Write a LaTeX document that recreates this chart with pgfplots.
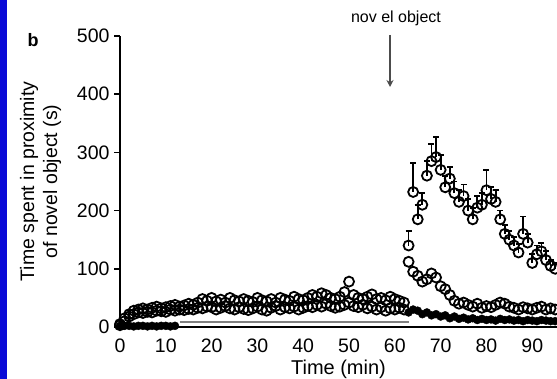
\documentclass[border=0pt]{standalone}
\usepackage{fontspec}
\setmainfont{Liberation Sans}
\usepackage{pgfplots}
\pgfplotsset{compat=1.18}
\usetikzlibrary{arrows.meta}
\definecolor{edgeblue}{RGB}{10,10,215}
\begin{document}
\begin{tikzpicture}[x=1pt,y=1pt]
\useasboundingbox (0,0) rectangle (557,379);
\fill[edgeblue] (0,0) rectangle (7,379);
\begin{axis}[
  at={(120pt,52pt)}, anchor=south west,
  scale only axis, width=437pt, height=291pt,
  xmin=0, xmax=95.4, ymin=0, ymax=500,
  axis x line*=bottom, axis y line*=left,
  axis line style={line width=2.5pt},
  xtick={0,10,...,90}, ytick={0,100,...,500},
  tick align=outside,
  major tick length=6pt,
  every tick/.style={line width=1.5pt, black},
  x tick style={draw=none},
  /pgf/number format/assume math mode=true,
  tick label style={font=\fontsize{19.5}{21}\selectfont},
  xticklabel style={yshift=-2pt},
  yticklabel style={xshift=-1pt},
  xlabel={Time (min)},
  xlabel style={font=\fontsize{20}{22}\selectfont, at={(axis description cs:0.5,0)}, anchor=center, yshift=-42pt},
  ylabel={Time spent in proximity\\of novel object (s)},
  ylabel style={font=\fontsize{19.5}{23}\selectfont, align=center, at={(axis description cs:-0.182,0.5)}, anchor=center},
  clip=false,
]
% filled black series near zero
\addplot[only marks, mark=*, mark size=4pt, mark options={fill=black, draw=black}] coordinates {
(0,2)(1,2)(2,2)(3,1)(4,2)(5,2)(6,1)(7,2)(8,1)(9,2)(10,2)(11,1)(12,2)
(63,25)(64,30)(65,28)(66,22)(67,25)(68,20)(69,22)(70,18)(71,20)(72,15)(73,18)(74,14)(75,16)(76,13)(77,15)(78,12)(79,14)(80,12)(81,13)(82,11)(83,14)(84,12)(85,13)(86,11)(87,12)(88,10)(89,12)(90,11)(91,10)(92,12)(93,11)(94,10)(95,10)
};
\addplot[gray, line width=2pt] coordinates {(13,8)(63,8)};
% moderate responders
\addplot[only marks, mark=o, mark size=5pt, mark options={fill=white, draw=black, line width=1.8pt}] coordinates {
(0,3)(1,10)(2,18)(3,22)(4,25)(5,24)(6,26)(7,25)(8,28)(9,27)(10,26)(11,30)(12,28)(13,30)(14,29)(15,31)(16,30)(17,33)(18,32)(19,35)(20,34)(21,30)(22,33)(23,36)(24,32)(25,30)(26,34)(27,31)(28,29)(29,32)(30,35)(31,30)(32,28)(33,33)(34,36)(35,30)(36,34)(37,32)(38,35)(39,30)(40,33)(41,36)(42,34)(43,38)(44,35)(45,40)(46,36)(47,33)(48,35)(49,38)(50,42)(51,36)(52,34)(53,38)(54,32)(55,35)(56,30)(57,34)(58,28)(59,32)(60,30)(61,33)(62,30)
(63,112)(64,95)(65,88)(66,78)(67,82)(68,92)(69,85)(70,70)(71,65)(72,55)(73,45)(74,40)(75,42)(76,38)(77,35)(78,40)(79,33)(80,36)(81,34)(82,38)(83,42)(84,40)(85,35)(86,33)(87,30)(88,34)(89,32)(90,30)(91,33)(92,35)(93,30)(94,32)(95,30)
};
% high responders
\addplot[only marks, mark=o, mark size=5pt, mark options={fill=white, draw=black, line width=1.8pt},
  error bars/.cd, y dir=plus, y explicit, error bar style={line width=1.8pt, black}, error mark options={rotate=90, mark size=3pt, line width=1.8pt}] coordinates {
(0,5)(1,15)(2,22)(3,28)(4,30)(5,32)(6,30)(7,33)(8,35)(9,32)(10,34)(11,36)(12,38)(13,35)(14,37)(15,40)(16,38)(17,42)(18,48)(19,45)(20,50)(21,44)(22,47)(23,42)(24,50)(25,46)(26,44)(27,48)(28,45)(29,43)(30,50)(31,46)(32,44)(33,48)(34,42)(35,50)(36,47)(37,45)(38,52)(39,48)(40,46)(41,50)(42,55)(43,52)(44,58)(45,55)(46,50)(47,48)(48,52)(49,60)(50,78)(51,55)(52,50)(53,48)(54,52)(55,56)(56,48)(57,50)(58,46)(59,52)(60,48)(61,45)(62,42)
(63,140) +- (0,25)
(64,232) +- (0,50)
(65,185) +- (0,25)
(66,210) +- (0,20)
(67,260) +- (0,25)
(68,285) +- (0,30)
(69,292) +- (0,35)
(70,270) +- (0,25)
(71,240) +- (0,20)
(72,255) +- (0,20)
(73,230) +- (0,20)
(74,215) +- (0,20)
(75,225) +- (0,20)
(76,200) +- (0,20)
(77,185) +- (0,20)
(78,205) +- (0,20)
(79,210) +- (0,20)
(80,235) +- (0,35)
(81,220) +- (0,20)
(82,215) +- (0,20)
(83,185) +- (0,15)
(84,160) +- (0,15)
(85,150) +- (0,15)
(86,140) +- (0,15)
(87,128) +- (0,15)
(88,160) +- (0,30)
(89,145) +- (0,15)
(90,110) +- (0,15)
(91,125) +- (0,15)
(92,130) +- (0,15)
(93,115) +- (0,15)
(94,105) +- (0,10)
(95,100) +- (0,10)
};
\end{axis}
\node[font=\fontsize{16}{18}\selectfont] at (396,361) {nov el object};
\draw[line width=1.8pt, -{Stealth[length=7pt,width=7pt]}, black!70] (390,344) -- (390,292);
\node[font=\bfseries\fontsize{18}{20}\selectfont] at (33,339) {b};
\end{tikzpicture}
\end{document}
